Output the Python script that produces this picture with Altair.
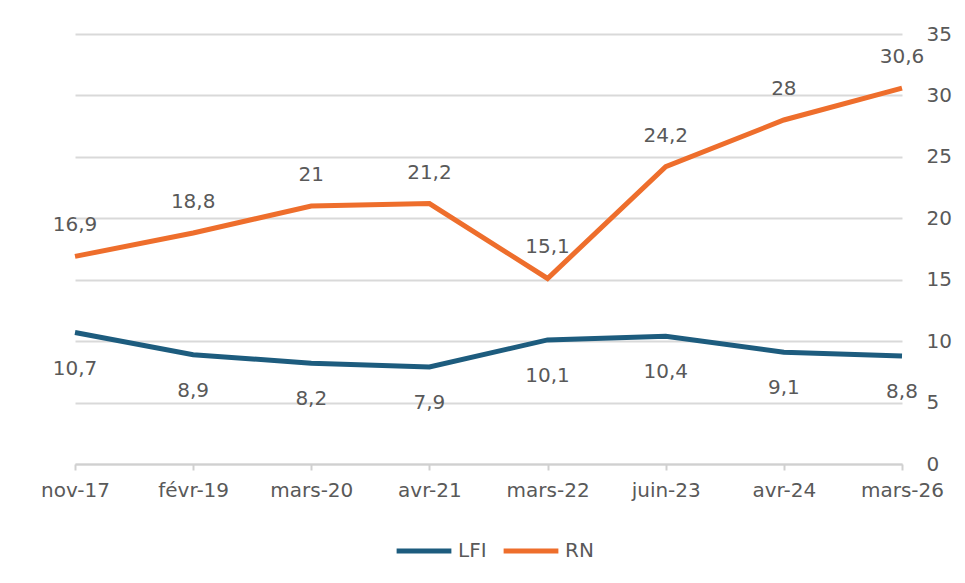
import altair as alt
import pandas as pd

dates = ["nov-17", "févr-19", "mars-20", "avr-21", "mars-22", "juin-23", "avr-24", "mars-26"]
lfi = [10.7, 8.9, 8.2, 7.9, 10.1, 10.4, 9.1, 8.8]
rn = [16.9, 18.8, 21, 21.2, 15.1, 24.2, 28, 30.6]
series = ["LFI", "RN"]
colors = ["#1D5C7E", "#EE6E2C"]
y_ticks = [0, 5, 10, 15, 20, 25, 30, 35]

rows = []
for s, vals in zip(series, [lfi, rn]):
    for d, v in zip(dates, vals):
        rows.append({"date": d, "serie": s, "value": v,
                     "label": f"{v:g}".replace(".", ",")})
df = pd.DataFrame(rows)

FONT = "DejaVu Sans"
GREY = "#595959"

x = alt.X("date:N", sort=dates, title=None,
          scale=alt.Scale(type="point", padding=0),
          axis=alt.Axis(labelAngle=0, labelFontSize=20, labelColor=GREY, labelFont=FONT,
                        labelPadding=10, tickSize=6, tickColor="#D0D0D0", tickWidth=2,
                        domainColor="#D0D0D0", domainWidth=2, grid=False))
y = alt.Y("value:Q", title=None,
          scale=alt.Scale(domain=[0, 35], nice=False, zero=True),
          axis=alt.Axis(orient="right", values=y_ticks, labelFontSize=20, labelColor=GREY,
                        labelFont=FONT, labelPadding=24, labelAlign="left",
                        ticks=False, domain=False, grid=True,
                        gridColor="#D9D9D9", gridWidth=2))

color = alt.Color("serie:N", scale=alt.Scale(domain=series, range=colors),
                  legend=alt.Legend(title=None, orient="none", direction="horizontal",
                                    legendX=319, legendY=487,
                                    symbolType="stroke", symbolSize=3000,
                                    symbolStrokeWidth=5, labelFontSize=20,
                                    labelColor=GREY, labelFont=FONT,
                                    labelOffset=4, columnPadding=6))

base = alt.Chart(df)
lines = base.mark_line(strokeWidth=5, strokeCap="butt").encode(x=x, y=y, color=color)

txt_rn = base.transform_filter(alt.datum.serie == "RN").mark_text(
    dy=-31, fontSize=20, font=FONT, color=GREY, baseline="middle").encode(
    x=alt.X("date:N", sort=dates), y="value:Q", text="label:N")
txt_lfi = base.transform_filter(alt.datum.serie == "LFI").mark_text(
    dy=36, fontSize=20, font=FONT, color=GREY, baseline="middle").encode(
    x=alt.X("date:N", sort=dates), y="value:Q", text="label:N")

chart = alt.layer(lines, txt_rn, txt_lfi).properties(
    width=827, height=430,
    padding={"left": 32, "top": 16, "right": 0, "bottom": 0},
    background="white",
).configure_view(stroke=None)

chart.save("out.html", embed_options={"renderer": "svg", "actions": False})
